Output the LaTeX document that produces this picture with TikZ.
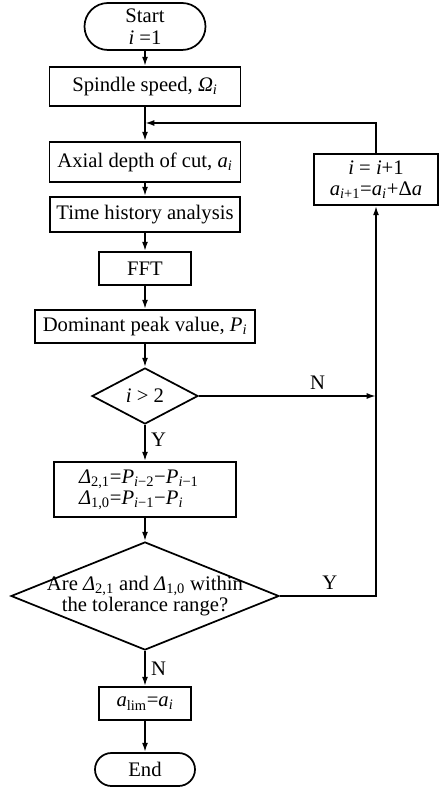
\documentclass[tikz,border=0pt]{standalone}
\usepackage{fontspec}
\setmainfont{Liberation Serif}
\usetikzlibrary{arrows.meta,shapes.geometric,shapes.misc}

\newcommand\iv[1]{\textit{#1}}
\newcommand\lo[1]{\textsubscript{#1}}

\tikzset{
  sz/.style 2 args={minimum width=#1*0.75pt,minimum height=#2*0.75pt},
  box/.style={draw,line width=1.3pt,inner sep=0pt,align=center},
  term/.style={box,rounded rectangle},
  dec/.style={draw,line width=1.3pt,diamond,inner sep=0pt},
  arr/.style={line width=1.3pt,-{Latex[length=7pt,width=4.5pt]}},
  lbl/.style={inner sep=4pt}
}

\begin{document}
\begin{tikzpicture}[x=0.75pt,y=-0.75pt,font=\fontsize{15.5}{16}\selectfont]
\useasboundingbox (0,0) rectangle (446,791);

\node[term,sz={121}{47}] (start) at (145,26.5) {Start\\\iv{i} =1};
\node[box,sz={191}{39}] (spd) at (145,86.5) {Spindle speed, \iv{Ω}\lo{\iv{i}}};
\node[box,sz={191}{40}] (ap) at (145,162) {Axial depth of cut, \iv{a}\lo{\iv{i}}};
\node[box,sz={190}{35}] (ths) at (145,214.5) {Time history analysis};
\node[box,sz={92}{33}] (fft) at (145,268.5) {FFT};
\node[box,sz={220}{33}] (peak) at (145,326.5) {Dominant peak value, \iv{P}\lo{\iv{i}}};
\node[dec,sz={106}{56}] (cnt) at (145,396) {\iv{i} > 2};
\node[box,minimum height=55*0.75pt,text width=132*0.75pt,inner xsep=25*0.75pt,align=left] (dlt) at (145,489.5)
  {\iv{Δ}\lo{2,1}=\iv{P}\lo{\iv{i}−2}−\iv{P}\lo{\iv{i}−1}\\
   \iv{Δ}\lo{1,0}=\iv{P}\lo{\iv{i}−1}−\iv{P}\lo{\iv{i}}};
\node[dec,sz={268}{108},label={[align=center,inner sep=0pt]center:Are \iv{Δ}\lo{2,1} and \iv{Δ}\lo{1,0} within\\the tolerance range?}] (tol) at (145,596) {};
\node[box,sz={92}{33}] (alim) at (145,703.5) {\iv{a}\lo{lim}=\iv{a}\lo{\iv{i}}};
\node[term,sz={100}{33}] (end) at (145,769.5) {End};
\node[box,sz={124}{51}] (inc) at (376,179.5) {\iv{i} = \iv{i}+1\\\iv{a}\lo{\iv{i}+1}=\iv{a}\lo{\iv{i}}+Δ\iv{a}};

\coordinate (jn) at (376,396);
\coordinate (jm) at (145,123);

\draw[arr] (start) -- (spd);
\draw[arr] (spd) -- (ap);
\draw[arr] (ap) -- (ths);
\draw[arr] (ths) -- (fft);
\draw[arr] (fft) -- (peak);
\draw[arr] (peak) -- (cnt);
\draw[arr] (cnt) -- node[lbl,right,pos=.4] {Y} (dlt);
\draw[arr] (dlt) -- (tol);
\draw[arr] (tol) -- node[lbl,right] {N} (alim);
\draw[arr] (alim) -- (end);
% decision branches on the right
\draw[arr] (cnt.east) -- node[lbl,above,pos=.67] {N} (jn);
\draw[arr] (tol.east) -| node[lbl,above,pos=.26] {Y} (inc.south);
\draw[arr] (inc.north) |- (jm);

\end{tikzpicture}
\end{document}
